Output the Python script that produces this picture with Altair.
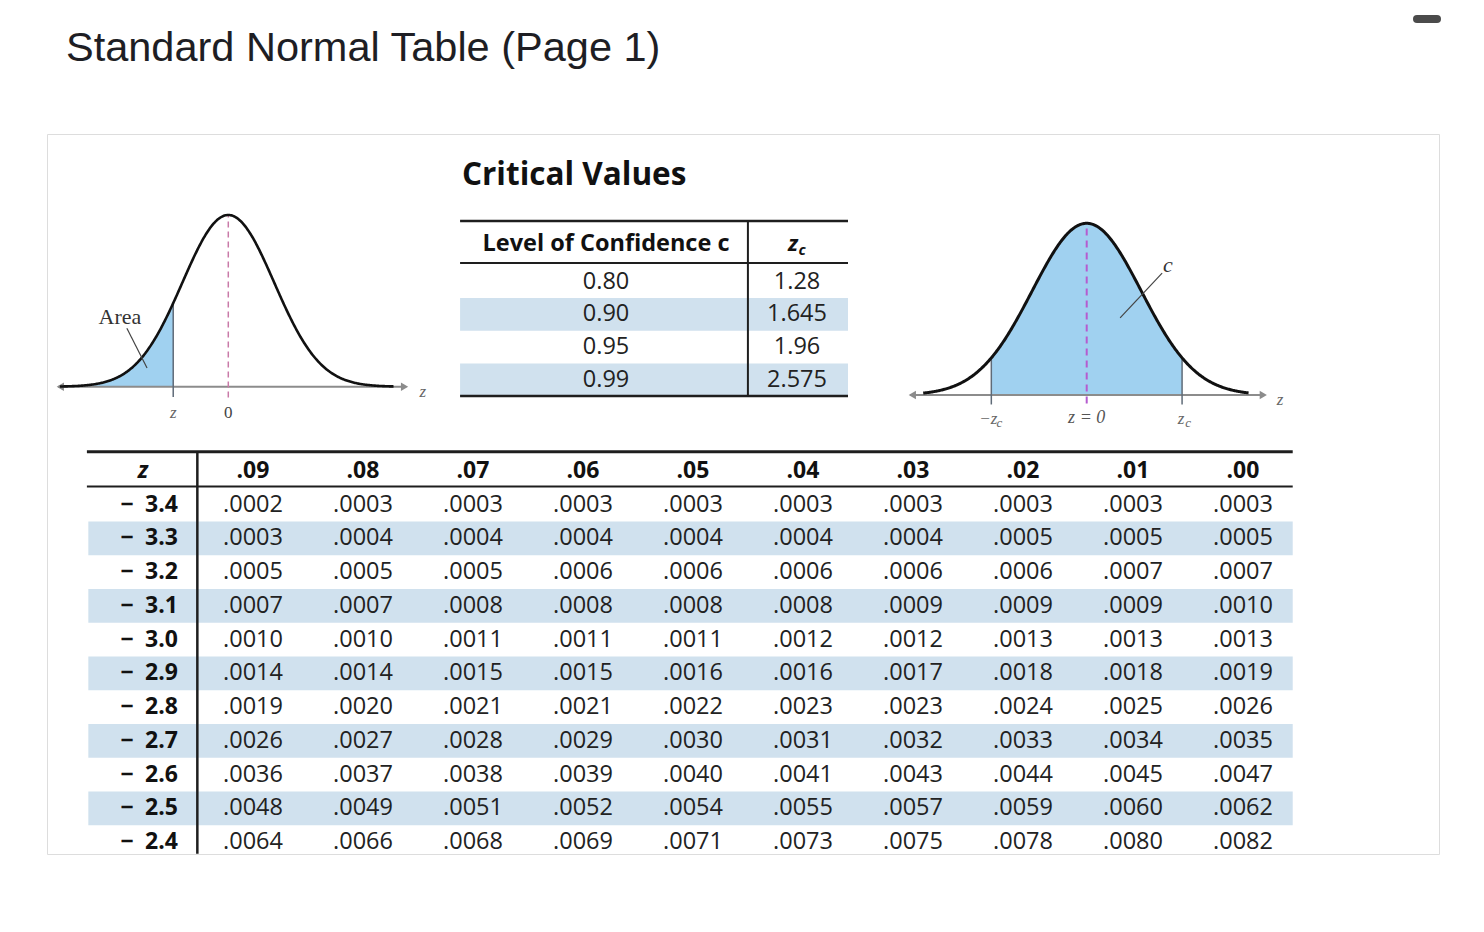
import altair as alt
import numpy as np
import pandas as pd

# ---------------- data ----------------
col_labels = [".09", ".08", ".07", ".06", ".05", ".04", ".03", ".02", ".01", ".00"]
z_labels = ["\u2212\u20023.4", "\u2212\u20023.3", "\u2212\u20023.2", "\u2212\u20023.1",
            "\u2212\u20023.0", "\u2212\u20022.9", "\u2212\u20022.8", "\u2212\u20022.7",
            "\u2212\u20022.6", "\u2212\u20022.5", "\u2212\u20022.4"]
p_m34 = [0.0002, 0.0003, 0.0003, 0.0003, 0.0003, 0.0003, 0.0003, 0.0003, 0.0003, 0.0003]
p_m33 = [0.0003, 0.0004, 0.0004, 0.0004, 0.0004, 0.0004, 0.0004, 0.0005, 0.0005, 0.0005]
p_m32 = [0.0005, 0.0005, 0.0005, 0.0006, 0.0006, 0.0006, 0.0006, 0.0006, 0.0007, 0.0007]
p_m31 = [0.0007, 0.0007, 0.0008, 0.0008, 0.0008, 0.0008, 0.0009, 0.0009, 0.0009, 0.0010]
p_m30 = [0.0010, 0.0010, 0.0011, 0.0011, 0.0011, 0.0012, 0.0012, 0.0013, 0.0013, 0.0013]
p_m29 = [0.0014, 0.0014, 0.0015, 0.0015, 0.0016, 0.0016, 0.0017, 0.0018, 0.0018, 0.0019]
p_m28 = [0.0019, 0.0020, 0.0021, 0.0021, 0.0022, 0.0023, 0.0023, 0.0024, 0.0025, 0.0026]
p_m27 = [0.0026, 0.0027, 0.0028, 0.0029, 0.0030, 0.0031, 0.0032, 0.0033, 0.0034, 0.0035]
p_m26 = [0.0036, 0.0037, 0.0038, 0.0039, 0.0040, 0.0041, 0.0043, 0.0044, 0.0045, 0.0047]
p_m25 = [0.0048, 0.0049, 0.0051, 0.0052, 0.0054, 0.0055, 0.0057, 0.0059, 0.0060, 0.0062]
p_m24 = [0.0064, 0.0066, 0.0068, 0.0069, 0.0071, 0.0073, 0.0075, 0.0078, 0.0080, 0.0082]
table_rows = [p_m34, p_m33, p_m32, p_m31, p_m30, p_m29, p_m28, p_m27, p_m26, p_m25, p_m24]

conf_levels = ["0.80", "0.90", "0.95", "0.99"]
z_crit = ["1.28", "1.645", "1.96", "2.575"]

area_cut = -1.2     # z shown in the left illustration
zc_cut = 1.75       # +/- z_c shown in the right illustration

page_title = "Standard Normal Table (Page 1)"

# ---------------- styles ----------------
SANS = "Open Sans"
SERIF = "Liberation Serif"
INK = "#1e1e1e"
BAND = "#d0e1ee"
FILL = "#a0d1f0"
AXIS = "#8c8c8c"
EDGE = "#5f6b78"

ONE = pd.DataFrame({"k": [0]})


def xd(v, s):
    return alt.XDatum(v, type="quantitative", scale=s, axis=None)


def yd(v, s):
    return alt.YDatum(v, type="quantitative", scale=s, axis=None)


def pdf(z):
    return np.exp(-0.5 * z * z) / np.sqrt(2 * np.pi)


# ---------------- main table ----------------
XT = alt.Scale(domain=[1, 10], range=[206, 1196], nice=False, zero=False)
YT = alt.Scale(domain=[0, 11], range=[337, 708], nice=False, zero=False)

cells = pd.DataFrame([
    {"row": i + 1, "col": j + 1, "txt": f"{v:.4f}"[1:]}
    for i, r in enumerate(table_rows) for j, v in enumerate(r)
])
heads = pd.DataFrame({"col": list(range(1, 11)), "txt": col_labels})
zrows = pd.DataFrame({"row": list(range(1, 12)), "txt": z_labels})
bands = pd.DataFrame({"row": [r for r in range(1, 12) if r % 2 == 0]})

t_bands = alt.Chart(bands).transform_calculate(
    y0="datum.row - 0.5", y1="datum.row + 0.5"
).mark_rect(color=BAND).encode(
    x=xd(-0.497, XT), x2=alt.X2Datum(10.452),
    y=alt.Y("y0:Q", scale=YT, axis=None), y2="y1:Q")
t_top = alt.Chart(ONE).mark_rule(color=INK, strokeWidth=3).encode(
    x=xd(-0.51, XT), x2=alt.X2Datum(10.452), y=yd(-0.572, YT))
t_head = alt.Chart(ONE).mark_rule(color=INK, strokeWidth=2.2).encode(
    x=xd(-0.51, XT), x2=alt.X2Datum(10.452), y=yd(0.46, YT))
t_vert = alt.Chart(ONE).mark_rule(color=INK, strokeWidth=2.5).encode(
    x=xd(0.494, XT), y=yd(-0.572, YT), y2=alt.Y2Datum(11.35))
t_cells = alt.Chart(cells).mark_text(
    font=SANS, fontSize=23.5, color="#222", baseline="middle").encode(
    x=alt.X("col:Q", scale=XT, axis=None),
    y=alt.Y("row:Q", scale=YT, axis=None), text="txt:N")
t_heads = alt.Chart(heads).mark_text(
    font=SANS, fontSize=23, fontWeight="bold", color="#111", baseline="middle").encode(
    x=alt.X("col:Q", scale=XT, axis=None), y=yd(0, YT), text="txt:N")
t_z = alt.Chart(zrows).mark_text(
    font=SANS, fontSize=23, fontWeight="bold", color="#111", baseline="middle",
    align="right").encode(
    x=xd(0.318, XT), y=alt.Y("row:Q", scale=YT, axis=None), text="txt:N")
t_zhead = alt.Chart(ONE).mark_text(
    text="z", font=SANS, fontSize=23, fontWeight="bold", fontStyle="italic",
    color="#111", baseline="middle").encode(x=xd(0, XT), y=yd(0, YT))

main_group = alt.layer(t_bands, t_top, t_head, t_vert, t_cells, t_heads, t_z, t_zhead)

# ---------------- critical values table ----------------
XC = alt.Scale(domain=[0, 1], range=[559, 750], nice=False, zero=False)
YC = alt.Scale(domain=[1, 4], range=[147.5, 246], nice=False, zero=False)

crit = pd.DataFrame({"row": [1, 2, 3, 4], "conf": conf_levels, "zc": z_crit})
cbands = pd.DataFrame({"row": [2, 4]})

c_bands = alt.Chart(cbands).transform_calculate(
    y0="datum.row - 0.5", y1="datum.row + 0.5"
).mark_rect(color=BAND).encode(
    x=xd(-0.764, XC), x2=alt.X2Datum(1.267),
    y=alt.Y("y0:Q", scale=YC, axis=None), y2="y1:Q")
c_top = alt.Chart(ONE).mark_rule(color=INK, strokeWidth=2.5).encode(
    x=xd(-0.764, XC), x2=alt.X2Datum(1.267), y=yd(-0.843, YC))
c_head = alt.Chart(ONE).mark_rule(color=INK, strokeWidth=2).encode(
    x=xd(-0.764, XC), x2=alt.X2Datum(1.267), y=yd(0.436, YC))
c_bot = alt.Chart(ONE).mark_rule(color=INK, strokeWidth=2.5).encode(
    x=xd(-0.764, XC), x2=alt.X2Datum(1.267), y=yd(4.488, YC))
c_vert = alt.Chart(ONE).mark_rule(color=INK, strokeWidth=2).encode(
    x=xd(0.743, XC), y=yd(-0.843, YC), y2=alt.Y2Datum(4.488))
c_title = alt.Chart(ONE).mark_text(
    text="Critical Values", font=SANS, fontSize=31.5, fontWeight="bold",
    color="#111", align="left", baseline="middle").encode(x=xd(-0.754, XC), y=yd(-2.21, YC))
c_h1 = alt.Chart(ONE).mark_text(
    text="Level of Confidence c", font=SANS, fontSize=23.5, fontWeight="bold",
    color="#111", baseline="middle").encode(x=xd(0, XC), y=yd(-0.14, YC))
c_h2 = alt.Chart(ONE).mark_text(
    text="z", font=SANS, fontSize=22, fontWeight="bold", fontStyle="italic",
    color="#111", baseline="middle", dx=-4).encode(x=xd(1, XC), y=yd(-0.14, YC))
c_h3 = alt.Chart(ONE).mark_text(
    text="c", font=SANS, fontSize=15, fontWeight="bold", fontStyle="italic",
    color="#111", baseline="middle", dx=5, dy=6).encode(x=xd(1, XC), y=yd(-0.14, YC))
c_conf = alt.Chart(crit).mark_text(
    font=SANS, fontSize=23.5, color="#222", baseline="middle").encode(
    x=xd(0, XC), y=alt.Y("row:Q", scale=YC, axis=None), text="conf:N")
c_zc = alt.Chart(crit).mark_text(
    font=SANS, fontSize=23.5, color="#222", baseline="middle").encode(
    x=xd(1, XC), y=alt.Y("row:Q", scale=YC, axis=None), text="zc:N")

crit_group = alt.layer(c_bands, c_top, c_head, c_bot, c_vert, c_title,
                       c_h1, c_h2, c_h3, c_conf, c_zc)

# ---------------- left illustration ----------------
XL = alt.Scale(domain=[-4, 4], range=[-2.3, 364.9], nice=False, zero=False)
YL = alt.Scale(domain=[0, 0.39894], range=[252.7, 81], nice=False, zero=False)

zl = np.unique(np.concatenate([np.linspace(-3.67, 3.6, 400), [area_cut]]))
curve_l = pd.DataFrame({"z": zl, "d": pdf(zl)})

l_area = alt.Chart(curve_l).transform_filter(f"datum.z <= {area_cut}").mark_area(
    color=FILL).encode(
    x=alt.X("z:Q", scale=XL, axis=None), y=alt.Y("d:Q", scale=YL, axis=None),
    y2=alt.Y2Datum(0))
l_axis = alt.Chart(ONE).mark_rule(color=AXIS, strokeWidth=2).encode(
    x=xd(-3.71, XL), x2=alt.X2Datum(3.85), y=yd(0, YL))
l_arrL = alt.Chart(ONE).mark_point(shape="triangle-left", filled=True, size=70,
                                   color=AXIS, opacity=1).encode(x=xd(-3.66, XL), y=yd(0, YL))
l_arrR = alt.Chart(ONE).mark_point(shape="triangle-right", filled=True, size=70,
                                   color=AXIS, opacity=1).encode(x=xd(3.84, XL), y=yd(0, YL))
l_edge = alt.Chart(ONE).mark_rule(color=EDGE, strokeWidth=1.5).encode(
    x=xd(area_cut, XL), y=yd(-0.024, YL), y2=alt.Y2Datum(float(pdf(area_cut))))
l_dash = alt.Chart(ONE).mark_rule(color="#c97aa8", strokeWidth=1.5, strokeDash=[6, 4]).encode(
    x=xd(0, XL), y=yd(-0.025, YL), y2=alt.Y2Datum(0.39894))
l_line = alt.Chart(curve_l).mark_line(color="#111", strokeWidth=2.6).encode(
    x=alt.X("z:Q", scale=XL, axis=None), y=alt.Y("d:Q", scale=YL, axis=None))
l_lead = alt.Chart(ONE).mark_rule(color="#444", strokeWidth=1.2).encode(
    x=xd(-2.21, XL), x2=alt.X2Datum(-1.77), y=yd(0.136, YL), y2=alt.Y2Datum(0.0435))
l_area_lbl = alt.Chart(ONE).mark_text(
    text="Area", font=SERIF, fontSize=22, color="#333", baseline="middle").encode(
    x=xd(-2.36, XL), y=yd(0.162, YL))
l_z = alt.Chart(ONE).mark_text(
    text="z", font=SERIF, fontSize=17, fontStyle="italic", color="#666",
    baseline="middle", dy=26).encode(x=xd(area_cut, XL), y=yd(0, YL))
l_0 = alt.Chart(ONE).mark_text(
    text="0", font=SERIF, fontSize=17, color="#444",
    baseline="middle", dy=26).encode(x=xd(0, XL), y=yd(0, YL))
l_zax = alt.Chart(ONE).mark_text(
    text="z", font=SERIF, fontSize=17, fontStyle="italic", color="#666",
    baseline="middle", dy=5).encode(x=xd(4.24, XL), y=yd(0, YL))

left_group = alt.layer(l_area, l_axis, l_arrL, l_arrR, l_edge, l_dash, l_line,
                       l_lead, l_area_lbl, l_z, l_0, l_zax)

# ---------------- right illustration ----------------
XR = alt.Scale(domain=[-4, 4], range=[821.7, 1257.7], nice=False, zero=False)
YR = alt.Scale(domain=[0, 0.39894], range=[261, 89.3], nice=False, zero=False)

zr = np.unique(np.concatenate([np.linspace(-3.0, 2.97, 400), [-zc_cut, zc_cut]]))
curve_r = pd.DataFrame({"z": zr, "d": pdf(zr)})

r_area = alt.Chart(curve_r).transform_filter(
    f"datum.z >= {-zc_cut} && datum.z <= {zc_cut}").mark_area(color=FILL).encode(
    x=alt.X("z:Q", scale=XR, axis=None), y=alt.Y("d:Q", scale=YR, axis=None),
    y2=alt.Y2Datum(0))
r_axis = alt.Chart(ONE).mark_rule(color=AXIS, strokeWidth=2).encode(
    x=xd(-3.24, XR), x2=alt.X2Datum(3.25), y=yd(0, YR))
r_arrL = alt.Chart(ONE).mark_point(shape="triangle-left", filled=True, size=70,
                                   color=AXIS, opacity=1).encode(x=xd(-3.2, XR), y=yd(0, YR))
r_arrR = alt.Chart(ONE).mark_point(shape="triangle-right", filled=True, size=70,
                                   color=AXIS, opacity=1).encode(x=xd(3.24, XR), y=yd(0, YR))
r_edges = alt.Chart(pd.DataFrame({"z": [-zc_cut, zc_cut]})).transform_calculate(
    top="exp(-0.5*datum.z*datum.z)/sqrt(2*PI)", bot="-0.022"
).mark_rule(color=EDGE, strokeWidth=1.5).encode(
    x=alt.X("z:Q", scale=XR, axis=None), y=alt.Y("bot:Q", scale=YR, axis=None), y2="top:Q")
r_dash = alt.Chart(ONE).mark_rule(color="#b55ccf", strokeWidth=2, strokeDash=[7, 5]).encode(
    x=xd(0, XR), y=yd(-0.02, YR), y2=alt.Y2Datum(0.39894))
r_line = alt.Chart(curve_r).mark_line(color="#111", strokeWidth=3).encode(
    x=alt.X("z:Q", scale=XR, axis=None), y=alt.Y("d:Q", scale=YR, axis=None))
r_lead = alt.Chart(ONE).mark_rule(color="#444", strokeWidth=1.2).encode(
    x=xd(0.613, XR), x2=alt.X2Datum(1.384), y=yd(0.179, YR), y2=alt.Y2Datum(0.283))
r_c = alt.Chart(ONE).mark_text(
    text="c", font=SERIF, fontSize=22, fontStyle="italic", color="#333",
    baseline="middle").encode(x=xd(1.49, XR), y=yd(0.302, YR))
r_mz = alt.Chart(ONE).mark_text(
    text="−z", font=SERIF, fontSize=17, fontStyle="italic", color="#666",
    baseline="middle", dy=24, dx=-3).encode(x=xd(-zc_cut, XR), y=yd(0, YR))
r_mzc = alt.Chart(ONE).mark_text(
    text="c", font=SERIF, fontSize=13, fontStyle="italic", color="#666",
    baseline="middle", dy=28, dx=8).encode(x=xd(-zc_cut, XR), y=yd(0, YR))
r_z0 = alt.Chart(ONE).mark_text(
    text="z = 0", font=SERIF, fontSize=18, fontStyle="italic", color="#555",
    baseline="middle", dy=23).encode(x=xd(0, XR), y=yd(0, YR))
r_pz = alt.Chart(ONE).mark_text(
    text="z", font=SERIF, fontSize=17, fontStyle="italic", color="#666",
    baseline="middle", dy=24, dx=-1).encode(x=xd(zc_cut, XR), y=yd(0, YR))
r_pzc = alt.Chart(ONE).mark_text(
    text="c", font=SERIF, fontSize=13, fontStyle="italic", color="#666",
    baseline="middle", dy=28, dx=6).encode(x=xd(zc_cut, XR), y=yd(0, YR))
r_zax = alt.Chart(ONE).mark_text(
    text="z", font=SERIF, fontSize=17, fontStyle="italic", color="#666",
    baseline="middle", dy=5).encode(x=xd(3.55, XR), y=yd(0, YR))

right_group = alt.layer(r_area, r_axis, r_arrL, r_arrR, r_edges, r_dash, r_line,
                        r_lead, r_c, r_mz, r_mzc, r_z0, r_pz, r_pzc, r_zax)

# ---------------- page title and window control glyph ----------------
title_mark = alt.Chart(ONE).mark_text(
    text=page_title, font="Liberation Sans", fontSize=41.5, color="#1e1e24",
    align="left", baseline="alphabetic").encode(x=alt.value(19), y=alt.value(-73))
dash_btn = alt.Chart(ONE).mark_rule(color="#4b4b4b", strokeWidth=8, strokeCap="round").encode(
    x=alt.value(1370), x2=alt.value(1390), y=alt.value(-115))

chart = alt.layer(main_group, crit_group, left_group, right_group,
                  title_mark, dash_btn).resolve_scale(
    x="independent", y="independent"
).properties(
    width=1392, height=720,
    autosize=alt.AutoSizeParams(type="none"),
    padding={"left": 39, "top": 126, "right": 37, "bottom": 60},
).configure_view(stroke="#b5b5b5", strokeWidth=2.2).configure(background="white")

chart.save("out.html", embed_options={"renderer": "svg", "actions": False})
